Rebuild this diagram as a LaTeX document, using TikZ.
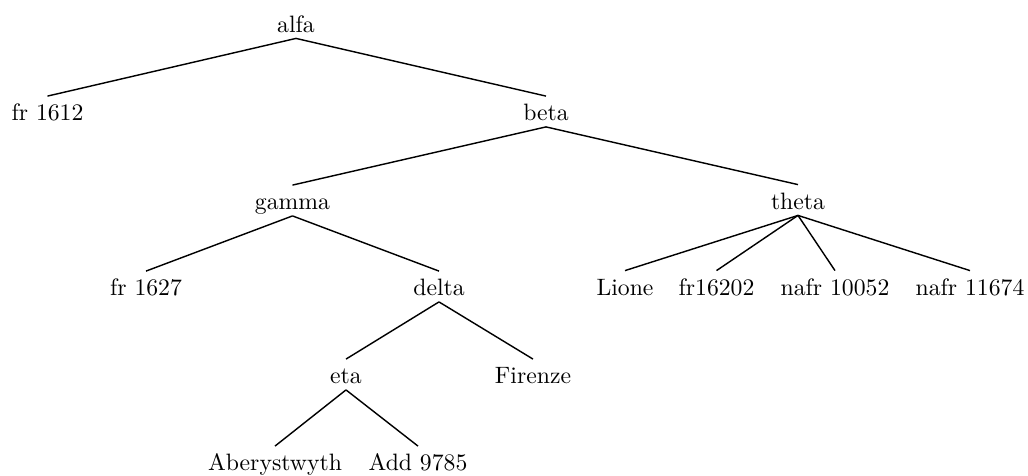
\documentclass[tikz,border=0pt]{standalone}
\begin{document}
\begin{tikzpicture}[x=0.4219pt,y=-0.4219pt,
  lbl/.style={anchor=base,inner xsep=0pt,inner ysep=2.5pt,text height=7.6pt,text depth=0pt,font=\fontsize{10}{12}\selectfont},
  edge/.style={line width=0.6pt}]
\useasboundingbox (0,0) rectangle (1028,475);
\node[lbl] (alfa) at (296,32) {alfa};
\node[lbl] (fr1612) at (47.5,120.5) {fr 1612};
\node[lbl] (beta) at (546,120.5) {beta};
\node[lbl] (gamma) at (292.5,209.5) {gamma};
\node[lbl] (theta) at (798,209) {theta};
\node[lbl] (fr1627) at (146,295.5) {fr 1627};
\node[lbl] (delta) at (439,295.5) {delta};
\node[lbl] (lione) at (625,295) {Lione};
\node[lbl] (fr16202) at (716.5,295) {fr16202};
\node[lbl] (nafrA) at (835,295) {nafr 10052};
\node[lbl] (nafrB) at (970,295) {nafr 11674};
\node[lbl] (eta) at (346,383.5) {eta};
\node[lbl] (firenze) at (533,383.5) {Firenze};
\node[lbl] (aber) at (275,470.5) {Aberystwyth};
\node[lbl] (add) at (418,470.5) {Add 9785};
\draw[edge] (alfa.south) -- (fr1612.north);
\draw[edge] (alfa.south) -- (beta.north);
\draw[edge] (beta.south) -- (gamma.north);
\draw[edge] (beta.south) -- (theta.north);
\draw[edge] (gamma.south) -- (fr1627.north);
\draw[edge] (gamma.south) -- (delta.north);
\draw[edge] (theta.south) -- (lione.north);
\draw[edge] (theta.south) -- (fr16202.north);
\draw[edge] (theta.south) -- (nafrA.north);
\draw[edge] (theta.south) -- (nafrB.north);
\draw[edge] (delta.south) -- (eta.north);
\draw[edge] (delta.south) -- (firenze.north);
\draw[edge] (eta.south) -- (aber.north);
\draw[edge] (eta.south) -- (add.north);
\end{tikzpicture}
\end{document}
